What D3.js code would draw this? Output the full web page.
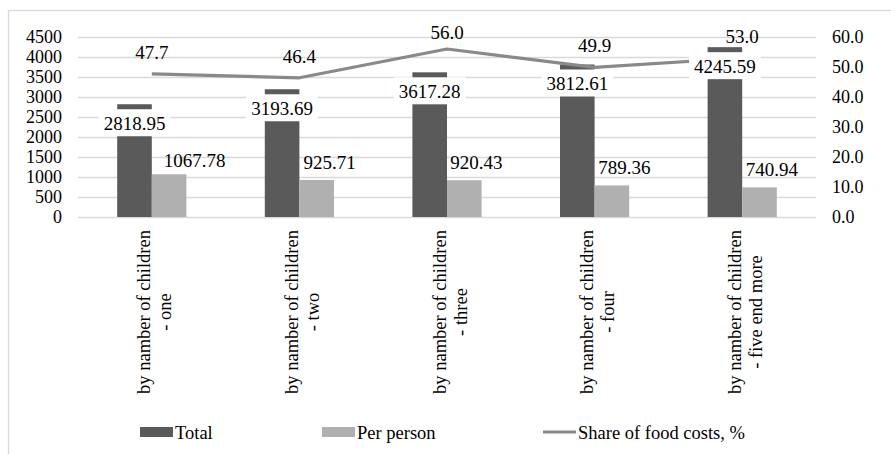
<!DOCTYPE html>
<html>
<head>
<meta charset="utf-8">
<script src="https://cdn.jsdelivr.net/npm/d3@7/dist/d3.min.js"></script>
<style>
  html, body { margin: 0; padding: 0; background: #fff; }
  #chart text { font-family: 'Liberation Serif' !important; }
</style>
</head>
<body>
<svg id="chart" width="891" height="454" font-family="Liberation Serif"></svg>
<script>
// Household spending by number of children
const categories = [
  ["by namber of children", "- one"],
  ["by namber of children", "- two"],
  ["by namber of children", "- three"],
  ["by namber of children", "- four"],
  ["by namber of children", "- five end more"]
];
const totalValues = [2818.95, 3193.69, 3617.28, 3812.61, 4245.59];
const perPersonValues = [1067.78, 925.71, 920.43, 789.36, 740.94];
const foodShareValues = [47.7, 46.4, 56.0, 49.9, 53.0];
const leftTicks = [0, 500, 1000, 1500, 2000, 2500, 3000, 3500, 4000, 4500];
const rightTicks = [0, 10, 20, 30, 40, 50, 60];
const legendLabels = ["Total", "Per person", "Share of food costs, %"];

const FONT = "Liberation Serif";
const colors = { total: "#5a5a5a", perPerson: "#b0b0b0", line: "#898989", grid: "#d9d9d9" };

const svg = d3.select("#chart");
const plot = { left: 78, right: 816, top: 37, bottom: 217 };

// small helper so every label gets the same typeface
const label = (sel, size) => sel.attr("font-family", FONT).attr("font-size", size).attr("fill", "#000");

// frame around the chart area
svg.append("rect")
  .attr("x", 8.5).attr("y", 10.5).attr("width", 900).attr("height", 460)
  .attr("fill", "none").attr("stroke", colors.grid).attr("stroke-width", 1.3);

const idx = categories.map((d, i) => i);
const x = d3.scaleBand().domain(idx).range([plot.left, plot.right]).padding(0);
const xInner = d3.scaleBand().domain(["total", "perPerson"])
  .range([0, x.bandwidth()]).paddingInner(0).paddingOuter(1.133);
const yL = d3.scaleLinear().domain([0, 4500]).range([plot.bottom, plot.top]);
const yR = d3.scaleLinear().domain([0, 60]).range([plot.bottom, plot.top]);

// gridlines
svg.append("g")
  .attr("transform", `translate(${plot.left},0)`)
  .call(d3.axisLeft(yL).tickValues(leftTicks).tickSize(-(plot.right - plot.left)).tickFormat(""))
  .call(g => g.select(".domain").remove())
  .call(g => g.selectAll(".tick line").attr("stroke", colors.grid).attr("stroke-width", 1.3));

// left axis labels
svg.append("g")
  .attr("transform", `translate(${plot.left},0)`)
  .call(d3.axisLeft(yL).tickValues(leftTicks).tickSize(0).tickPadding(16).tickFormat(d3.format("d")))
  .call(g => g.select(".domain").remove())
  .call(g => label(g, 18))
  .call(g => label(g.selectAll("text"), 18));

// right axis labels
svg.append("g")
  .attr("transform", `translate(${plot.right},0)`)
  .call(d3.axisRight(yR).tickValues(rightTicks).tickSize(0).tickPadding(16).tickFormat(d3.format(".1f")))
  .call(g => g.select(".domain").remove())
  .call(g => label(g, 18))
  .call(g => label(g.selectAll("text"), 18));

// bars
const bars = svg.append("g");
bars.selectAll("rect.total").data(totalValues).join("rect")
  .attr("class", "total")
  .attr("x", (d, i) => x(i) + xInner("total"))
  .attr("width", xInner.bandwidth())
  .attr("y", d => yL(d))
  .attr("height", d => yL(0) - yL(d))
  .attr("fill", colors.total);
bars.selectAll("rect.pp").data(perPersonValues).join("rect")
  .attr("class", "pp")
  .attr("x", (d, i) => x(i) + xInner("perPerson"))
  .attr("width", xInner.bandwidth())
  .attr("y", d => yL(d))
  .attr("height", d => yL(0) - yL(d))
  .attr("fill", colors.perPerson);

// share of food costs line
const cx = i => x(i) + x.bandwidth() / 2;
const line = d3.line().x((d, i) => cx(i)).y(d => yR(d));
svg.append("path")
  .datum(foodShareValues)
  .attr("d", line)
  .attr("fill", "none")
  .attr("stroke", colors.line)
  .attr("stroke-width", 3.2)
  .attr("stroke-linejoin", "round");

// total labels with white boxes, inside the bar end
const fmt2 = d3.format(".2f");
const totalLabels = svg.append("g");
totalValues.forEach((v, i) => {
  const g = totalLabels.append("g");
  const tx = x(i) + xInner("total") + xInner.bandwidth() / 2;
  const top = yL(v);
  const t = g.append("text")
    .attr("x", tx).attr("y", top + 25.5)
    .attr("text-anchor", "middle")
    .call(s => label(s, 19))
    .text(fmt2(v));
  const w = t.node().getComputedTextLength();
  g.insert("rect", "text")
    .attr("x", tx - w / 2 - 5).attr("y", top + 5)
    .attr("width", w + 10).attr("height", 27)
    .attr("fill", "#fff");
});

// per person labels above the bars
const ppShift = [[25.5, 3.5], [13, 0], [12, 0], [12.5, 0], [12.5, 0]];
svg.append("g").selectAll("text").data(perPersonValues).join("text")
  .attr("x", (d, i) => x(i) + xInner("perPerson") + xInner.bandwidth() / 2 + ppShift[i][0])
  .attr("y", (d, i) => yL(d) - 11 + ppShift[i][1])
  .attr("text-anchor", "middle")
  .call(s => label(s, 19))
  .text(d => fmt2(d));

// share labels above the line points
const shareShift = [0, 0, 4.5, 0, 0];
svg.append("g").selectAll("text").data(foodShareValues).join("text")
  .attr("x", (d, i) => cx(i))
  .attr("y", (d, i) => yR(d) - 15 + shareShift[i])
  .attr("text-anchor", "middle")
  .call(s => label(s, 19))
  .text(d => d3.format(".1f")(d));

// category labels, rotated
const catG = svg.append("g");
categories.forEach((lines, i) => {
  const t = catG.append("text")
    .attr("transform", `translate(${cx(i) - 1.5},312) rotate(-90)`)
    .attr("text-anchor", "middle")
    .call(s => label(s, 18.5));
  lines.forEach((s, k) => {
    t.append("tspan").attr("x", 0).attr("y", k * 21).text(s);
  });
});

// legend
const legend = svg.append("g");
const legendX = [140, 322, 543];
legend.append("rect").attr("x", legendX[0]).attr("y", 427).attr("width", 33).attr("height", 10).attr("fill", colors.total);
legend.append("rect").attr("x", legendX[1]).attr("y", 427).attr("width", 33).attr("height", 10).attr("fill", colors.perPerson);
legend.append("line").attr("x1", legendX[2]).attr("x2", legendX[2] + 33).attr("y1", 432).attr("y2", 432)
  .attr("stroke", colors.line).attr("stroke-width", 3.2);
legendLabels.forEach((s, k) => {
  legend.append("text").attr("x", legendX[k] + 35).attr("y", 438.5)
    .call(t => label(t, 18.5)).text(s);
});
</script>
</body>
</html>
